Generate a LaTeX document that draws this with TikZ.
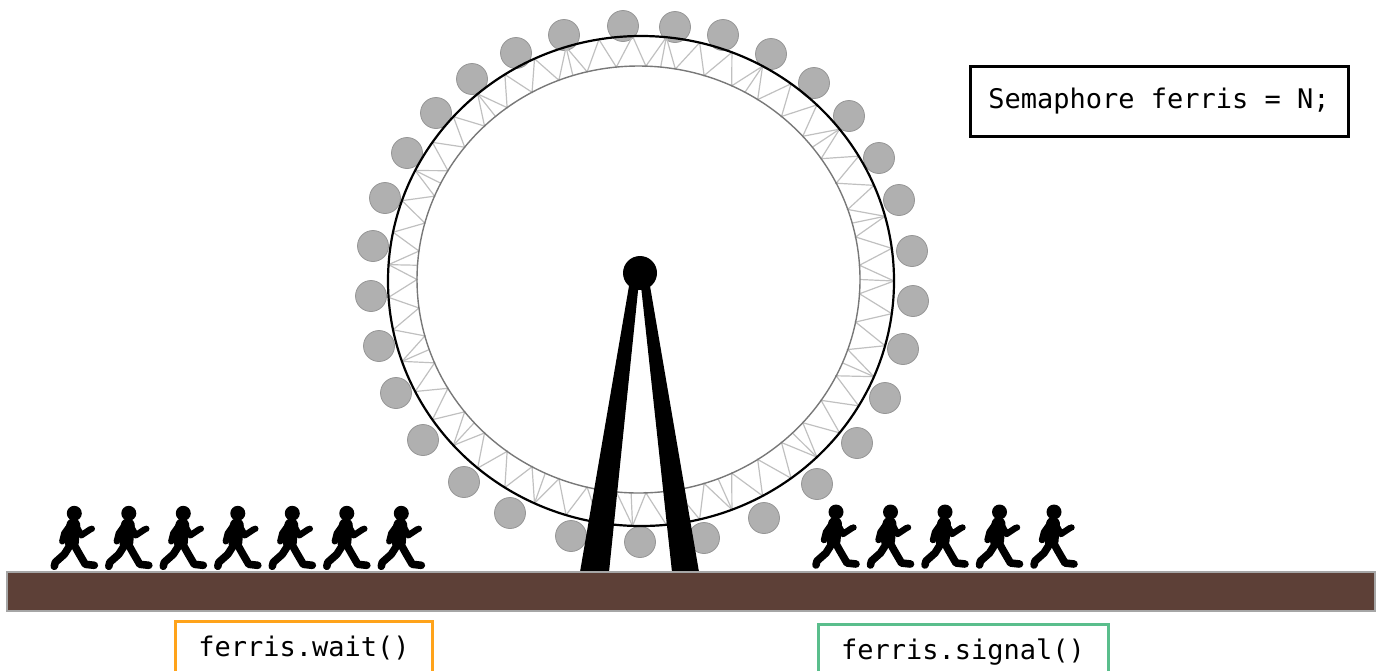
\documentclass[tikz,border=0pt]{standalone}
\usepackage{fontspec}
\setmonofont{DejaVu Sans Mono}
\definecolor{gondolafill}{RGB}{176,176,176}
\definecolor{gondolaedge}{RGB}{150,150,150}
\definecolor{trussgray}{RGB}{192,192,192}
\definecolor{innergray}{RGB}{120,120,120}
\definecolor{earth}{RGB}{93,64,55}
\definecolor{waitorange}{RGB}{255,163,26}
\definecolor{signalgreen}{RGB}{90,190,140}
\tikzset{
  gondola/.style={fill=gondolafill, draw=gondolaedge, line width=0.4pt},
  truss/.style={draw=trussgray, line width=0.6pt},
  codebox/.style={draw, line width=1.5pt, font=\ttfamily\fontsize{13.5}{15}\selectfont,
    text height=0.73em, text depth=0pt, inner sep=0pt},
  limb/.style={line width=3.8pt, line cap=round, line join=round},
  walker/.pic={
    \fill (0,0) circle (7.5);
    \draw[line width=7pt, line cap=round] (-1,12) -- (-2.5,29);
    \draw[limb, line width=3.2pt] (-5,13) -- (-10,20) -- (-12,28);
    \draw[limb, line width=3.2pt] (2,13) -- (7,22) -- (16,16);
    \fill (17.5,15.5) circle (3.2);
    \draw[limb] (-3,30) -- (-10,41) -- (-19,49) -- (-20,53);
    \draw[limb] (-1,30) -- (4,39) -- (11,51) -- (20,52);
  }
}
\newcommand{\outerpt}[1]{({641+253*cos(#1)},{281+245*sin(#1)})}
\newcommand{\innerpt}[1]{({638.5+221.5*cos(#1)},{279.5+213.5*sin(#1)})}
\begin{document}
\begin{tikzpicture}[x=0.5pt, y=-0.5pt]
\useasboundingbox (0,0) rectangle (1380,670);
\clip (0,0) rectangle (1380,670);

% gondolas around the rim
\foreach \gx/\gy in {623/26, 675/27, 564/35, 723/35, 516/53, 771/54, 472/79, 814/83,
  436/113, 849/116, 407/153, 879/158, 385/198, 899/200, 373/246, 912/251,
  371/296, 913/301, 379/346, 903/349, 396/393, 885/398, 423/440, 857/443,
  464/482, 817/484, 510/513, 764/518, 571/536, 704/538, 640/542}
  \draw[gondola] (\gx,\gy) circle (15.5);

% truss between the two rims
\foreach \k in {0,...,46} {
  \pgfmathsetmacro{\a}{360/47*\k}
  \pgfmathsetmacro{\b}{360/47*(\k+0.5)}
  \pgfmathsetmacro{\c}{360/47*(\k+1)}
  \draw[truss] \outerpt{\a} -- \innerpt{\b} -- \outerpt{\c};
}
\foreach \k in {0,3,...,45} {
  \pgfmathsetmacro{\a}{360/47*\k}
  \draw[truss] \outerpt{\a} -- \innerpt{\a};
}

% rims
\draw[innergray, line width=0.7pt] (638.5,279.5) ellipse (221.5 and 213.5);
\draw[black, line width=1.1pt] (641,281) ellipse (253 and 245);

% supporting legs and hub
\fill (629,286) -- (638.5,286) -- (609,572) -- (580,572) -- cycle;
\fill (641,286) -- (650,286) -- (699,572) -- (672,572) -- cycle;
\node[circle, fill, inner sep=0pt, minimum size=17pt] (hub) at (640,273) {};

% ground
\draw[fill=earth, draw=gray!70, line width=0.6pt] (7,572) rectangle (1375,611);

% people waiting and leaving
\foreach \hx in {74.3,128.8,183.3,237.8,292.3,346.8,401.3}
  \pic at (\hx,513.3) {walker};
\foreach \hx in {836,890.5,945,999.5,1054}
  \pic at (\hx,512) {walker};

% code labels
\node[codebox, minimum width=189pt, minimum height=35pt] (decl) at (1159,101) {Semaphore ferris = N;};
\node[codebox, draw=waitorange, minimum width=128.8pt, minimum height=27pt] (wait) at (304,648.7) {ferris.wait()};
\node[codebox, draw=signalgreen, minimum width=145pt, minimum height=28.5pt] (signal) at (963,652.5) {ferris.signal()};
\end{tikzpicture}
\end{document}
